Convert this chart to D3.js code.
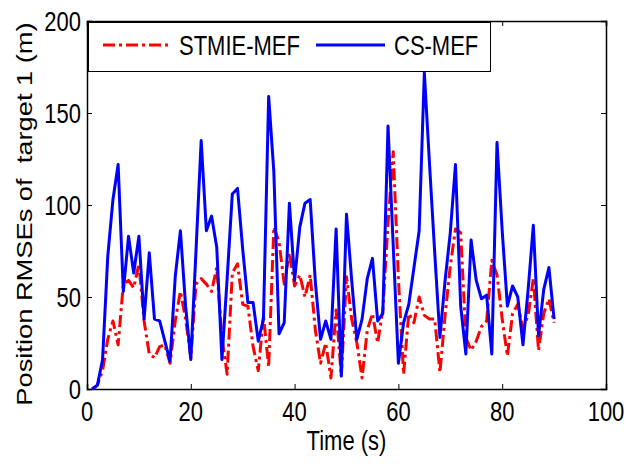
<!DOCTYPE html>
<html>
<head>
<meta charset="utf-8">
<script src="https://cdn.jsdelivr.net/npm/d3@7"></script>
<style>
    body { margin: 0; background: #fff; }
    text { font-family: "Liberation Sans", Arial, sans-serif; fill: #000; }
</style>
</head>
<body>
<div class="chart"></div>
<script>
var time = [1, 2, 3, 4, 5, 6, 7, 8, 9, 10, 11, 12, 13, 14, 15, 16, 17, 18, 19, 20,
    21, 22, 23, 24, 25, 26, 27, 28, 29, 30, 31, 32, 33, 34, 35, 36, 37, 38, 39, 40,
    41, 42, 43, 44, 45, 46, 47, 48, 49, 50, 51, 52, 53, 54, 55, 56, 57, 58, 59, 60,
    61, 62, 63, 64, 65, 66, 67, 68, 69, 70, 71, 72, 73, 74, 75, 76, 77, 78, 79, 80,
    81, 82, 83, 84, 85, 86, 87, 88, 89, 90];

var stmie = [0, 2, 10, 27, 37, 24, 57, 59, 55, 68, 37, 19, 17, 23, 24, 14, 37, 53, 38, 17,
    57, 60, 57, 53, 66, 28, 8, 63, 68, 46, 45, 23, 10, 40, 12, 88, 80, 57, 74, 56,
    62, 50, 62, 32, 14, 25, 6, 43, 7, 61, 38, 25, 6, 32, 41, 25, 43, 90, 129, 60,
    8, 41, 36, 50, 40, 38, 38, 9, 40, 67, 87, 85, 28, 21, 26, 34, 37, 70, 62, 38,
    18, 41, 46, 33, 40, 60, 21, 41, 49, 36];

var csmef = [0, 2, 16, 72, 103, 122, 53, 83, 63, 83, 38, 74, 38, 37, 26, 15, 61, 86, 45, 16,
    75, 135, 86, 94, 77, 16, 60, 106, 109, 76, 47, 47, 26, 38, 159, 118, 30, 36, 101, 59,
    88, 101, 103, 58, 27, 37, 27, 87, 7, 95, 59, 27, 38, 60, 71, 37, 41, 143, 78, 14,
    36, 46, 66, 86, 172, 122, 74, 28, 59, 85, 122, 45, 19, 81, 59, 49, 51, 19, 134, 86,
    45, 56, 50, 24, 54, 89, 29, 54, 66, 38];

var xTicks = [0, 20, 40, 60, 80, 100];
var yTicks = [0, 50, 100, 150, 200];
var seriesNames = ['STMIE-MEF', 'CS-MEF'];

var width = 626;
var height = 464;
var plotLeft = 87, plotRight = 606, plotTop = 21, plotBottom = 389;
var stretch = 1.24; // the picture is taller than the font

var x = d3.scaleLinear().domain([0, 100]).range([plotLeft, plotRight]);
var y = d3.scaleLinear().domain([0, 200]).range([plotBottom, plotTop]);

var svg = d3.select('.chart')
    .append('svg')
    .attr('width', width)
    .attr('height', height);

// ticks point inward on all four sides
svg.append('g')
    .attr('transform', 'translate(0,' + plotBottom + ')')
    .call(d3.axisBottom(x).tickValues(xTicks).tickSize(-5).tickFormat(''));
svg.append('g')
    .attr('transform', 'translate(0,' + plotTop + ')')
    .call(d3.axisTop(x).tickValues(xTicks).tickSize(-5).tickFormat(''));
svg.append('g')
    .attr('transform', 'translate(' + plotLeft + ',0)')
    .call(d3.axisLeft(y).tickValues(yTicks).tickSize(-5).tickFormat(''));
svg.append('g')
    .attr('transform', 'translate(' + plotRight + ',0)')
    .call(d3.axisRight(y).tickValues(yTicks).tickSize(-5).tickFormat(''));

svg.selectAll('.domain').attr('stroke', '#000').attr('stroke-width', 1.5);
svg.selectAll('.tick line').attr('stroke', '#000');

// tick labels
svg.selectAll('.xlabel')
    .data(xTicks)
    .enter()
    .append('text')
    .attr('class', 'xlabel')
    .attr('text-anchor', 'middle')
    .attr('font-size', 22)
    .attr('transform', function(d) {
        return 'translate(' + x(d) + ',421) scale(1,' + stretch + ')';
    })
    .text(function(d) { return d; });

svg.selectAll('.ylabel')
    .data(yTicks)
    .enter()
    .append('text')
    .attr('class', 'ylabel')
    .attr('text-anchor', 'end')
    .attr('font-size', 22)
    .attr('transform', function(d) {
        return 'translate(81,' + (y(d) + 9.8) + ') scale(1,' + stretch + ')';
    })
    .text(function(d) { return d; });

svg.append('text')
    .attr('text-anchor', 'middle')
    .attr('font-size', 22)
    .attr('transform', 'translate(' + ((plotLeft + plotRight) / 2) + ',450) scale(1,' + stretch + ')')
    .text('Time (s)');

svg.append('text')
    .attr('text-anchor', 'middle')
    .attr('font-size', 22)
    .attr('xml:space', 'preserve')
    .style('white-space', 'pre')
    .attr('transform', 'translate(32,214) scale(1,' + stretch + ') rotate(-90)')
    .text('Position RMSEs of  target 1 (m)');

// series
var line = d3.line()
    .x(function(d) { return x(d[0]); })
    .y(function(d) { return y(d[1]); });

svg.append('path')
    .datum(d3.zip(time, stmie))
    .attr('fill', 'none')
    .attr('stroke', '#ff0000')
    .attr('stroke-width', 3)
    .attr('stroke-dasharray', '12,4,3,4')
    .attr('stroke-linejoin', 'round')
    .attr('d', line);

svg.append('path')
    .datum(d3.zip(time, csmef))
    .attr('fill', 'none')
    .attr('stroke', '#0000ff')
    .attr('stroke-width', 3)
    .attr('stroke-linejoin', 'round')
    .attr('d', line);

// legend
var legend = svg.append('g').attr('class', 'legend');

legend.append('rect')
    .attr('x', 88.5)
    .attr('y', 22.5)
    .attr('width', 402)
    .attr('height', 49)
    .attr('fill', '#fff')
    .attr('stroke', '#000')
    .attr('stroke-width', 1);

var legendItems = [
    { name: seriesNames[0], color: '#ff0000', dash: '12,4,3,4', x0: 103, tx: 179 },
    { name: seriesNames[1], color: '#0000ff', dash: null, x0: 316, tx: 394 }
];

legendItems.forEach(function(item) {
    legend.append('line')
        .attr('x1', item.x0)
        .attr('x2', item.x0 + 69)
        .attr('y1', 45)
        .attr('y2', 45)
        .attr('stroke', item.color)
        .attr('stroke-width', 3)
        .attr('stroke-dasharray', item.dash);

    legend.append('text')
        .attr('font-size', 22)
        .attr('transform', 'translate(' + item.tx + ',55) scale(1,' + stretch + ')')
        .text(item.name);
});
</script>
</body>
</html>
